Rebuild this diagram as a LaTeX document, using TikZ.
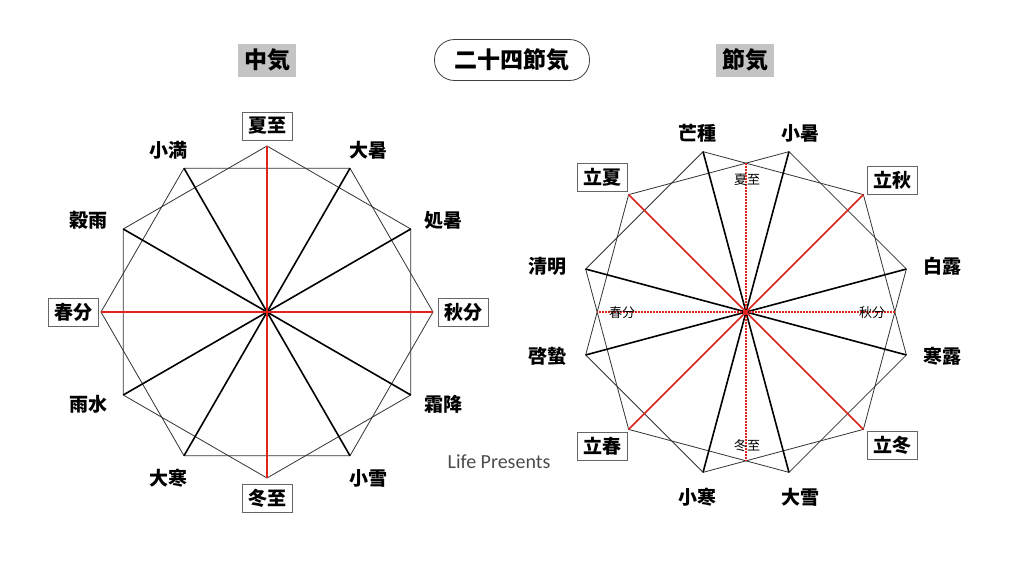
\documentclass[tikz,border=0pt]{standalone}
\usepackage{fontspec}
\setmainfont{Noto Sans CJK JP}
\newfontfamily\sigfont{Carlito}
\usetikzlibrary{calc}
\definecolor{myred}{HTML}{E0241B}
\begin{document}
\begin{tikzpicture}[x=1pt,y=-1pt,
  poly/.style={draw=black!80, line width=0.8pt},
  spoke/.style={draw=black, line width=1.6pt},
  redspoke/.style={draw=myred, line width=1.5pt},
  dotred/.style={draw=myred, line width=1.4pt, dash pattern=on 1.4pt off 1.6pt},
  lab/.style={font=\fontsize{19}{19}\selectfont\bfseries, inner sep=0pt},
  blab/.style={lab, draw=black!60, line width=0.8pt, minimum width=50pt, minimum height=28pt, fill=white},
  smalllab/.style={font=\fontsize{13}{13}\selectfont, inner sep=0pt},
  graytitle/.style={font=\fontsize{23}{23}\selectfont\bfseries, fill=black!23, minimum width=58pt, minimum height=33pt, inner sep=0pt},
  roundtitle/.style={font=\fontsize{23}{23}\selectfont\bfseries, draw=black!75, line width=0.8pt, rounded corners=20pt, minimum width=155pt, minimum height=41pt, inner sep=0pt},
  sig/.style={font=\sigfont\fontsize{20}{20}\selectfont, text=black!70, inner sep=0pt}
]
\useasboundingbox (0,0) rectangle (1024,568);
\fill[white] (0,0) rectangle (1024,568);

% titles
\node[graytitle] (t1) at (267,60) {中気};
\node[roundtitle] (t2) at (512,60) {二十四節気};
\node[graytitle] (t3) at (745,60) {節気};

% ---------- left figure ----------
\coordinate (LC) at (267,312);
\foreach \i in {0,...,11} \coordinate (L\i) at ($(LC)+(30*\i:166pt)$);
\draw[poly] (L0)--(L2)--(L4)--(L6)--(L8)--(L10)--cycle;
\draw[poly] (L1)--(L3)--(L5)--(L7)--(L9)--(L11)--cycle;
\foreach \i in {1,2,4,5,7,8,10,11} \draw[spoke] (LC)--(L\i);
\draw[redspoke] (L0)--(L6);
\draw[redspoke] (L3)--(L9);

\node[blab] (xz) at (267,126) {夏至};
\node[blab] (dz) at (267,498) {冬至};
\node[blab] (sb) at (73,312) {春分};
\node[blab] (qb) at (463,312) {秋分};
\node[lab] (xm) at (168,150) {小満};
\node[lab] (ds) at (368,150) {大暑};
\node[lab] (gy) at (88,220) {穀雨};
\node[lab] (cs) at (443,220) {処暑};
\node[lab] (ys) at (88,404) {雨水};
\node[lab] (sj) at (443,404) {霜降};
\node[lab] (dh) at (168,478) {大寒};
\node[lab] (xx) at (368,478) {小雪};

% ---------- right figure ----------
\coordinate (RC) at (746,312);
\foreach \i in {0,...,11} \coordinate (R\i) at ($(RC)+(15+30*\i:166pt)$);
\foreach \i in {0,...,3} \coordinate (D\i) at ($(RC)+(90*\i:148.7pt)$);
\draw[poly] (R0)--(R2)--(R4)--(R6)--(R8)--(R10)--cycle;
\draw[poly] (R1)--(R3)--(R5)--(R7)--(R9)--(R11)--cycle;
\foreach \i in {0,2,3,5,6,8,9,11} \draw[spoke] (RC)--(R\i);
\draw[dotred] (D0)--(D2);
\draw[dotred] (D1)--(D3);
\draw[redspoke] (R1)--(R7);
\draw[redspoke] (R4)--(R10);

\node[smalllab] (sxz) at (747,180) {夏至};
\node[smalllab] (sdz) at (747,446) {冬至};
\node[smalllab] (ssb) at (622,313) {春分};
\node[smalllab] (sqb) at (872,313) {秋分};

\node[lab] (mz) at (697,133) {芒種};
\node[lab] (xs) at (800,133) {小暑};
\node[blab] (lx) at (602,177) {立夏};
\node[blab] (lq) at (892,180) {立秋};
\node[lab] (qm) at (547,266) {清明};
\node[lab] (bl) at (942,266) {白露};
\node[lab] (qz) at (547,356) {啓蟄};
\node[lab] (hl) at (942,356) {寒露};
\node[blab] (lc) at (602,446) {立春};
\node[blab] (ld) at (892,445) {立冬};
\node[lab] (xh) at (697,497) {小寒};
\node[lab] (dx) at (800,497) {大雪};

\node[sig] (lp) at (499,462) {Life Presents};
\end{tikzpicture}
\end{document}
